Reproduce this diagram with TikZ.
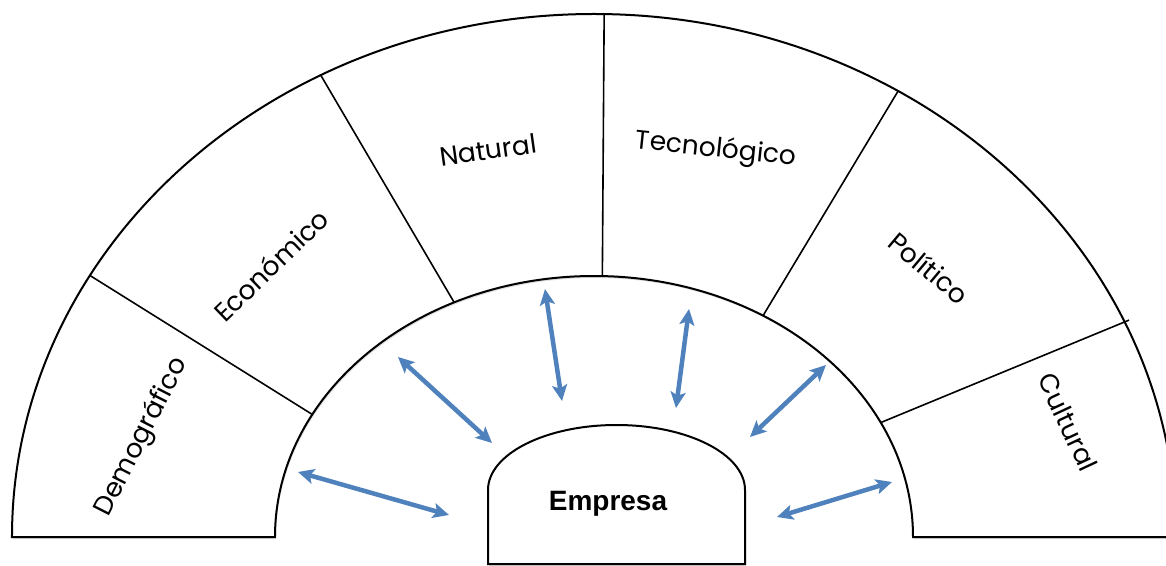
\documentclass[tikz,border=0pt]{standalone}
\usepackage{fontspec}
\setmainfont{Poppins}
\newfontfamily\arialfont{Liberation Sans}
\usetikzlibrary{arrows.meta,shadows}

\definecolor{arrowblue}{HTML}{4F81BD}

\begin{document}
\begin{tikzpicture}[x=1pt, y=1pt,
    every node/.style={font=\fontsize{26.5}{30}\selectfont},
    band/.style={draw, line width=2pt, fill=white, drop shadow={shadow xshift=1pt, shadow yshift=-2pt, opacity=0.25}},
    divider/.style={line width=1.6pt},
    flow/.style={arrowblue, line width=4.5pt, >={Stealth[length=16pt, width=15pt, inset=3.5pt]}, <->}]
    \useasboundingbox (-594,-28) rectangle (572,537);

    % Outer band
    \path[band] (-582,0) arc[start angle=180, end angle=0, x radius=582, y radius=523]
        -- (319,0) arc[start angle=0, end angle=180, x radius=319, y radius=261] -- cycle;

    % Dividers between the sectors
    \coordinate (d1in) at (152:319 and 261);
    \coordinate (d1out) at (150:582 and 523);
    \coordinate (d2in) at (116:319 and 261);
    \coordinate (d2out) at (118:582 and 523);
    \coordinate (d3in) at (88.5:319 and 261);
    \coordinate (d3out) at (89:582 and 523);
    \coordinate (d4in) at (58:319 and 261);
    \coordinate (d4out) at (58.5:582 and 523);
    \coordinate (d5in) at (26:319 and 261);
    \coordinate (d5out) at (24.5:588 and 523);
    \draw[divider] (d1in) -- (d1out);
    \draw[divider] (d2in) -- (d2out);
    \draw[divider] (d3in) -- (d3out);
    \draw[divider] (d4in) -- (d4out);
    \draw[divider] (d5in) -- (d5out);

    % Sector labels
    \node[rotate=63] (demografico) at (-452,100) {Demográfico};
    \node[rotate=44] (economico) at (-323,272) {Económico};
    \node[rotate=8] (natural) at (-106,387) {Natural};
    \node[rotate=-6] (tecnologico) at (122,387) {Tecnológico};
    \node[rotate=-40] (politico) at (335,269) {Político};
    \node[rotate=-65] (cultural) at (474,115) {Cultural};

    % Empresa
    \draw[line width=2pt, fill=white, drop shadow={shadow xshift=1pt, shadow yshift=-2pt, opacity=0.25}]
        (-106,-27) -- (-106,47) arc[start angle=180, end angle=0, x radius=128.5, y radius=65] -- (151,-27) -- cycle;
    \node[anchor=base, font=\arialfont\bfseries\fontsize{28}{32}\selectfont] (empresa) at (14,27) {Empresa};

    % Arrows
    \coordinate (a1) at (-296,65);  \coordinate (b1) at (-145,22);
    \coordinate (a2) at (-196,180); \coordinate (b2) at (-102,94);
    \coordinate (a3) at (-49,248);  \coordinate (b3) at (-32,136);
    \coordinate (a4) at (95,228);   \coordinate (b4) at (82,129);
    \coordinate (a5) at (232,172);  \coordinate (b5) at (156,100);
    \coordinate (a6) at (298,55);   \coordinate (b6) at (183,20);
    \draw[flow] (a1) -- (b1);
    \draw[flow] (a2) -- (b2);
    \draw[flow] (a3) -- (b3);
    \draw[flow] (a4) -- (b4);
    \draw[flow] (a5) -- (b5);
    \draw[flow] (a6) -- (b6);
\end{tikzpicture}
\end{document}
